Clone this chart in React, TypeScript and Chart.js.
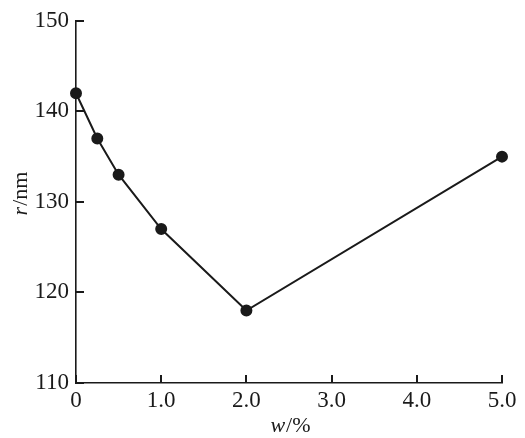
import React, { useEffect, useRef } from "react";
import { Chart, registerables } from "chart.js";

Chart.register(...registerables);

const xValues = [0, 0.25, 0.5, 1.0, 2.0, 5.0];
const rValues = [142, 137, 133, 127, 118, 135];
const xTicks = [0, 1, 2, 3, 4, 5];
const yTicks = [110, 120, 130, 140, 150];

const FONT = "'Times New Roman', Times, 'Liberation Serif', serif";
const INK = "#1a1a1a";

const axisPlugin = {
  id: "axisDecor",
  afterDraw(chart: any) {
    const ctx = chart.ctx;
    const area = chart.chartArea;
    const xs = chart.scales.x;
    const ys = chart.scales.y;
    ctx.save();
    ctx.strokeStyle = INK;
    ctx.lineWidth = 2;
    ctx.beginPath();
    for (const v of xTicks) {
      const px = Math.round(xs.getPixelForValue(v));
      ctx.moveTo(px, area.bottom);
      ctx.lineTo(px, area.bottom - 8);
    }
    for (const v of yTicks) {
      const py = Math.round(ys.getPixelForValue(v));
      ctx.moveTo(area.left, py);
      ctx.lineTo(area.left + 8, py);
    }
    ctx.stroke();
    // axis titles with italic variable
    ctx.fillStyle = INK;
    ctx.textBaseline = "alphabetic";
    const drawMixed = (a: string, b: string, cx: number, cy: number, rotate: boolean) => {
      ctx.save();
      ctx.translate(cx, cy);
      if (rotate) ctx.rotate(-Math.PI / 2);
      ctx.font = `italic 22px ${FONT}`;
      const wa = ctx.measureText(a).width;
      ctx.font = `22px ${FONT}`;
      const wb = ctx.measureText(b).width;
      const start = -(wa + wb) / 2;
      ctx.font = `italic 22px ${FONT}`;
      ctx.textAlign = "left";
      ctx.fillText(a, start, 0);
      ctx.font = `22px ${FONT}`;
      ctx.fillText(b, start + wa + 1, 0);
      ctx.restore();
    };
    drawMixed("w", "/%", 290, 432, false);
    drawMixed("r", "/nm", 27, 194, true);
    ctx.restore();
  },
};

export default function App() {
  const canvasRef = useRef<HTMLCanvasElement | null>(null);

  useEffect(() => {
    document.body.style.margin = "0";
    const canvas = canvasRef.current;
    if (!canvas) return;
    const chart = new Chart(canvas, {
      type: "line",
      data: {
        datasets: [
          {
            data: xValues.map((x, i) => ({ x, y: rValues[i] })),
            borderColor: INK,
            backgroundColor: INK,
            borderWidth: 2,
            pointRadius: 5,
            pointHoverRadius: 5,
            pointBackgroundColor: INK,
            pointBorderColor: INK,
            tension: 0,
            fill: false,
            clip: false,
          },
        ],
      },
      options: {
        animation: false,
        responsive: false,
        maintainAspectRatio: false,
        layout: { padding: { left: 0, top: 20, right: 23, bottom: 0 } },
        plugins: {
          legend: { display: false },
          tooltip: { enabled: false },
          title: { display: false },
        },
        scales: {
          x: {
            type: "linear",
            min: 0,
            max: 5,
            afterFit: (scale: any) => {
              scale.height = 55;
            },
            afterBuildTicks: (scale: any) => {
              scale.ticks = xTicks.map((v) => ({ value: v }));
            },
            grid: { drawOnChartArea: false, drawTicks: false },
            border: { color: INK, width: 1.6 },
            ticks: {
              padding: 4,
              color: INK,
              font: { family: FONT, size: 23 },
              maxRotation: 0,
              callback: (v: any) => (Number(v) === 0 ? "0" : Number(v).toFixed(1)),
            },
          },
          y: {
            type: "linear",
            min: 110,
            max: 150,
            afterFit: (scale: any) => {
              scale.width = 76;
            },
            afterBuildTicks: (scale: any) => {
              scale.ticks = yTicks.map((v) => ({ value: v }));
            },
            grid: { drawOnChartArea: false, drawTicks: false },
            border: { color: INK, width: 1.6 },
            ticks: {
              padding: 7,
              color: INK,
              font: { family: FONT, size: 23 },
              callback: (v: any) => String(v),
            },
          },
        },
      },
      plugins: [axisPlugin],
    });
    return () => chart.destroy();
  }, []);

  return (
    <div style={{ width: 525, height: 438, background: "#fff", position: "relative" }}>
      <canvas ref={canvasRef} width={525} height={438} style={{ width: 525, height: 438 }} />
    </div>
  );
}
